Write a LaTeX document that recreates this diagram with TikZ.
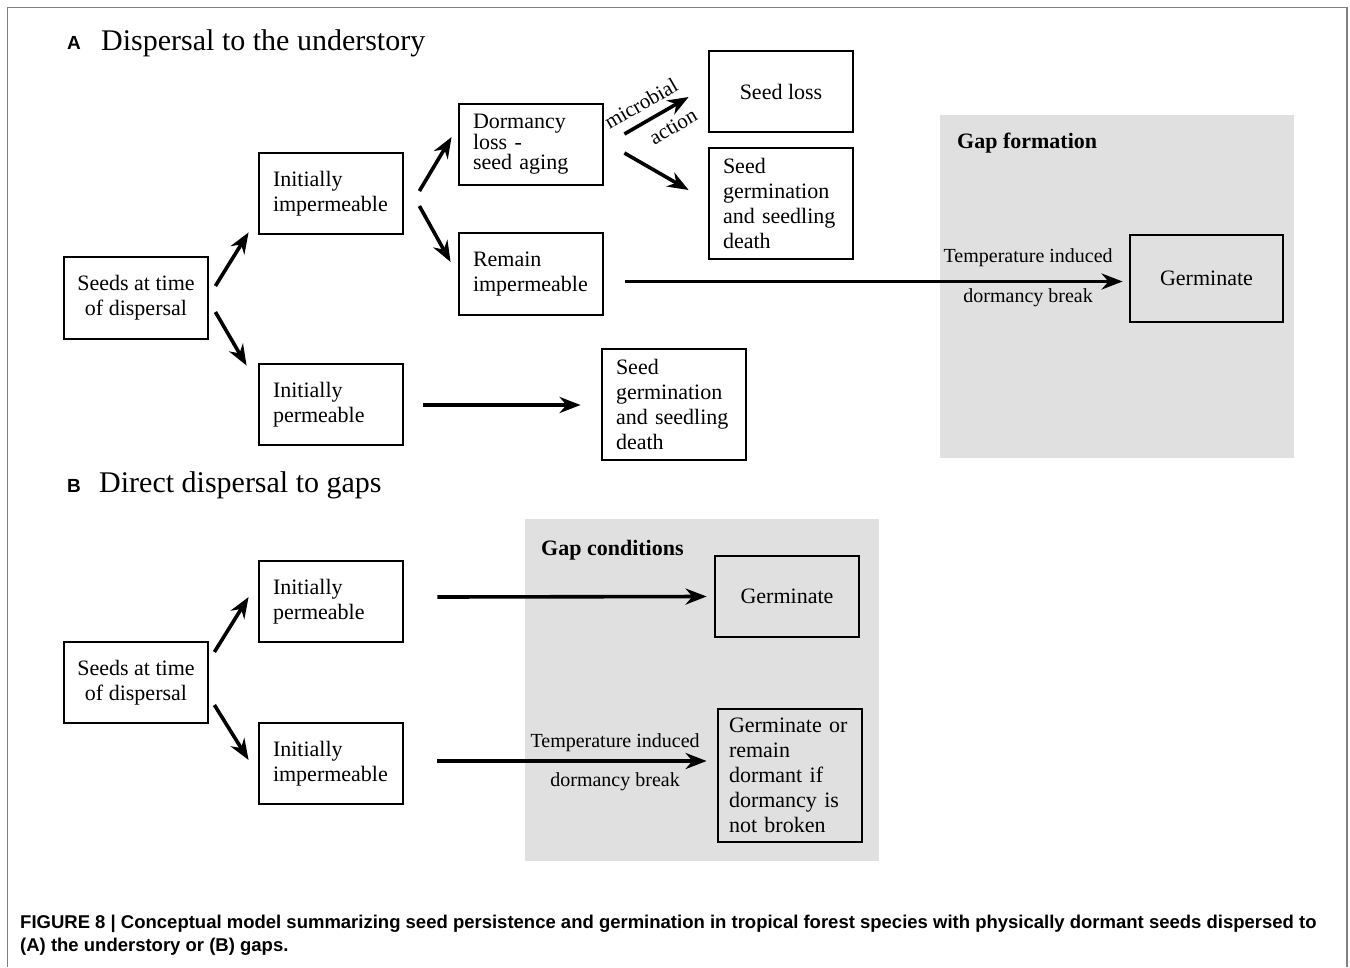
\documentclass[tikz,border=0pt]{standalone}
\usepackage{fontspec}
\setmainfont{Liberation Serif}
\setsansfont{Liberation Sans}
\newfontfamily\capfont{Liberation Sans}
\usetikzlibrary{arrows.meta}

\begin{document}
\begin{tikzpicture} [
                % one unit is one pixel of the figure, y runs downwards
                x=1pt, y=-1pt,
                box/.style = {draw, line width=2.8pt, minimum width=144pt, minimum height=81pt,
                              inner sep=0pt, font=\fontsize{22}{25}\selectfont},
                left box/.style = {box, align=left, text width=116pt},
                center box/.style = {box, align=center},
                arrow/.style = {draw, line width=3.6pt, -{Stealth[length=21pt,width=16pt]}},
                gap/.style = {fill=black!12},
                cue/.style = {font=\fontsize{20}{24}\selectfont},
                heading/.style = {anchor=base west, inner sep=0pt, font=\fontsize{30}{34}\selectfont},
                panel/.style = {anchor=base west, inner sep=0pt, font=\sffamily\bfseries\fontsize{19}{22}\selectfont},
                gap title/.style = {anchor=base west, inner sep=0pt, font=\bfseries\fontsize{22}{25}\selectfont},
                frame/.style = {draw=black!50, line width=1.3pt}
            ]
            \useasboundingbox (0,0) rectangle (1350,967);
            \draw[frame] (7.5,967) |- (1347,7.5) -- (1347,967);
            % First the grey gap areas
            \fill[gap] (940,115) rectangle (1294,458);
            \fill[gap] (525,519) rectangle (879,861);
            % Panel headings
            \node[panel] (labA) at (67,49) {A};
            \node[heading] (titleA) at (101,50) {Dispersal to the understory};
            \node[panel] (labB) at (67,492) {B};
            \node[heading] (titleB) at (99,492) {Direct dispersal to gaps};
            \node[gap title] (gapform) at (957,148) {Gap formation};
            \node[gap title] (gapcond) at (541,555) {Gap conditions};
            % Boxes of panel A
            \node[center box, minimum height=82pt] (seedsA) at (136,298) {Seeds at time\\of dispersal};
            \node[left box] (impA) at (331,193.5) {Initially\\impermeable};
            \node[left box] (permA) at (331,404.5) {Initially\\permeable};
            \node[left box, font=\fontsize{22}{20}\selectfont] (dorm) at (531,144.5) {Dormancy\\loss -\\seed aging};
            \node[left box, minimum height=82pt] (remain) at (531,274) {Remain\\impermeable};
            \node[center box] (loss) at (781,91.5) {Seed loss};
            \node[left box, minimum height=111pt] (death1) at (781,203.5) {Seed\\germination\\and seedling\\death};
            \node[left box, minimum height=111pt] (death2) at (674,404.5) {Seed\\germination\\and seedling\\death};
            \node[center box, minimum width=153pt, minimum height=87pt] (germA) at (1206.5,278.5) {Germinate};
            % Boxes of panel B
            \node[center box] (seedsB) at (136,682.5) {Seeds at time\\of dispersal};
            \node[left box] (permB) at (331,601.5) {Initially\\permeable};
            \node[left box] (impB) at (331,763.5) {Initially\\impermeable};
            \node[center box] (germB) at (787,596.5) {Germinate};
            \node[left box, text width=122pt, minimum height=133pt] (germdorm) at (790,775.5) {Germinate or\\remain\\dormant if\\dormancy is\\not broken};
            % Connect the boxes, arrows stop short of the boxes
            \foreach \src/\sx/\sy/\dst/\dx/\dy in {
                seedsA.east/6/-12/impA.south west/-9/-3,
                seedsA.east/6/14/permA.north west/-11/3,
                impA.east/15/-2.5/dorm.west/-6/-7.5,
                impA.east/15/12.5/remain.west/-7/-12,
                dorm.east/20/8.5/death1.west/-19/-13.5,
                permA.east/19/0.5/death2.west/-20/0.5,
                seedsB.east/5/-30.5/permB.west/-9/-4.5,
                seedsB.east/5/22.5/impB.west/-9/-3.5,
                permB.east/33/-4.5/germB.west/-7/0}
                \path[arrow] ([shift={(\sx,\sy)}]\src) -- ([shift={(\dx,\dy)}]\dst);
            % Arrows with labels
            \path[arrow] ([shift={(20,-10.5)}]dorm.east) -- ([shift={(-19,5.5)}]loss.west)
                node[sloped, pos=0.4, above=9pt, inner sep=0pt, font=\fontsize{21}{24}\selectfont] (microbial) {microbial}
                node[sloped, pos=0.62, below=9pt, inner sep=0pt, font=\fontsize{21}{24}\selectfont] (action) {action};
            \path[arrow] ([shift={(21,7.5)}]remain.east) -- ([shift={(-6,3)}]germA.west)
                node[cue, pos=0.81, yshift=23.5pt] (tempA) {Temperature induced}
                node[cue, pos=0.81, yshift=-16.5pt] (breakA) {dormancy break};
            \path[arrow] ([shift={(33,-2.5)}]impB.east) -- ([shift={(-10,-14.5)}]germdorm.west)
                node[cue, pos=0.66, yshift=18pt] (tempB) {Temperature induced}
                node[cue, pos=0.66, yshift=-21pt] (breakB) {dormancy break};
            % Caption
            \node[anchor=north west, inner sep=0pt, align=left,
                  font=\capfont\bfseries\fontsize{18.5}{23}\selectfont] (caption) at (20,915)
                {FIGURE 8 \textbar{} Conceptual model summarizing seed persistence and germination in tropical forest species with physically dormant seeds dispersed to\\
                 (A) the understory or (B) gaps.};
        \end{tikzpicture}
\end{document}
